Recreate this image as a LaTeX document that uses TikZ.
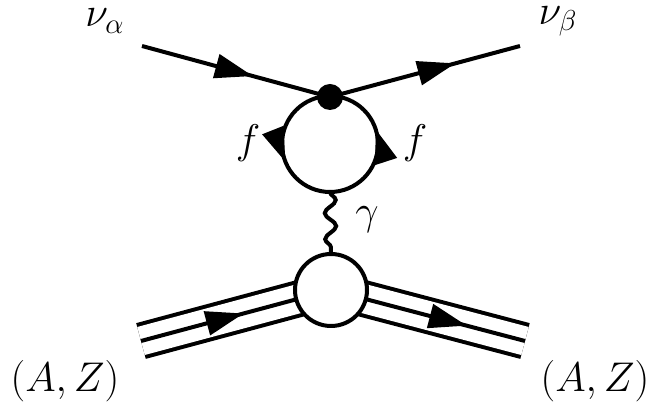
\documentclass[tikz,border=0pt]{standalone}
\usetikzlibrary{arrows.meta,bending,decorations.markings,decorations.pathmorphing}
\begin{document}
\begin{tikzpicture}[x=0.5pt,y=-0.5pt,line width=2pt,
  arr/.style={postaction={decorate,decoration={markings,mark=at position #1 with {\arrow{Triangle[length=19pt,width=12pt]}}}}},
  larr/.style={postaction={decorate,decoration={markings,mark=at position #1 with {\arrow{Triangle[bend,length=17pt,width=11pt]}}}}},
  triple/.style={double=white,double distance=14.5pt,line width=2pt},
  photon/.style={decorate,decoration={snake,segment length=13pt,amplitude=2.8pt}},
  lbl/.style={font=\huge,inner sep=0pt}]
\useasboundingbox (0,0) rectangle (649,405);
% coordinates
\coordinate (na) at (142,46);
\coordinate (nb) at (520,46);
\coordinate (Vc) at (330,97);
\coordinate (Ltop) at (330,96);
\coordinate (Lbot) at (330,192);
\coordinate (Bc) at (331,290);
\coordinate (Lm) at (141,341);
\coordinate (Rm) at (525,341);
% neutrino lines
\draw[arr=0.59] (na) -- (Vc);
\draw[arr=0.66] (Vc) -- (nb);
% fermion loop
\draw[larr=0.62] (Ltop) arc[start angle=270,end angle=90,radius=48];
\draw[larr=0.60] (Lbot) arc[start angle=90,end angle=-90,radius=48];
\node[circle,fill=black,inner sep=0pt,minimum size=13pt] (V) at (Vc) {};
% nucleus lines
\draw[triple] (Lm) -- (Bc);
\draw[arr=0.54] (Lm) -- (Bc);
\draw[triple] (Bc) -- (Rm);
\draw[arr=0.70] (Bc) -- (Rm);
\node[circle,draw,fill=white,inner sep=0pt,minimum size=36pt] (B) at (Bc) {};
% photon
\draw[photon] (Lbot) -- (B.north);
% labels
\node[lbl] (la) at (105,21) {$\nu_\alpha$};
\node[lbl] (lb) at (558,21) {$\nu_\beta$};
\node[lbl] (f1) at (248,143) {$f$};
\node[lbl] (f2) at (415,143) {$f$};
\node[lbl] (g) at (367,220) {$\gamma$};
\node[lbl] (AZ1) at (65,381) {$(A,Z)$};
\node[lbl] (AZ2) at (595,381) {$(A,Z)$};
\end{tikzpicture}
\end{document}
